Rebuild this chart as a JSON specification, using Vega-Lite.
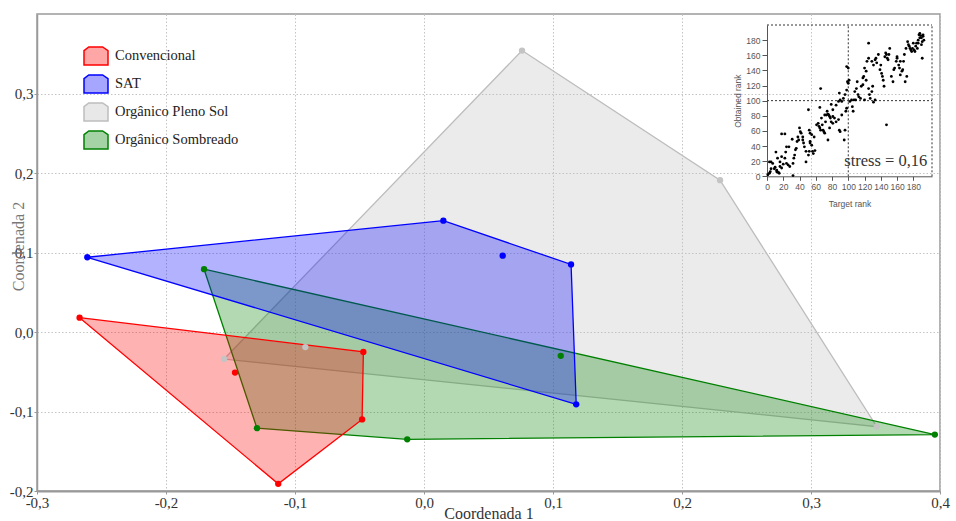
{
 "$schema": "https://vega.github.io/schema/vega-lite/v6.json",
 "width": 903,
 "height": 477,
 "autosize": "none",
 "padding": {"left": 37, "top": 14, "right": 16, "bottom": 30},
 "background": "white",
 "config": {"view": {"stroke": "#9a9a9a", "strokeWidth": 1.5}, "font": "Liberation Serif"},
 "datasets": {
  "hull": [
   {"group": "Orgânico Pleno Sol", "order": 1, "x": 0.076, "y": 0.354},
   {"group": "Orgânico Pleno Sol", "order": 2, "x": 0.2295, "y": 0.191},
   {"group": "Orgânico Pleno Sol", "order": 3, "x": 0.351, "y": -0.119},
   {"group": "Orgânico Pleno Sol", "order": 4, "x": -0.155, "y": -0.034},
   {"group": "Orgânico Pleno Sol", "order": 5, "x": 0.076, "y": 0.354},
   {"group": "Orgânico Sombreado", "order": 1, "x": -0.1705, "y": 0.079},
   {"group": "Orgânico Sombreado", "order": 2, "x": 0.396, "y": -0.129},
   {"group": "Orgânico Sombreado", "order": 3, "x": -0.013, "y": -0.135},
   {"group": "Orgânico Sombreado", "order": 4, "x": -0.1295, "y": -0.121},
   {"group": "Orgânico Sombreado", "order": 5, "x": -0.1705, "y": 0.079},
   {"group": "SAT", "order": 1, "x": -0.261, "y": 0.094},
   {"group": "SAT", "order": 2, "x": 0.015, "y": 0.14},
   {"group": "SAT", "order": 3, "x": 0.114, "y": 0.085},
   {"group": "SAT", "order": 4, "x": 0.118, "y": -0.091},
   {"group": "SAT", "order": 5, "x": -0.261, "y": 0.094},
   {"group": "Convencional", "order": 1, "x": -0.267, "y": 0.018},
   {"group": "Convencional", "order": 2, "x": -0.047, "y": -0.025},
   {"group": "Convencional", "order": 3, "x": -0.048, "y": -0.11},
   {"group": "Convencional", "order": 4, "x": -0.113, "y": -0.191},
   {"group": "Convencional", "order": 5, "x": -0.267, "y": 0.018}
  ],
  "pts": [
   {"group": "Convencional", "x": -0.267, "y": 0.018},
   {"group": "Convencional", "x": -0.1465, "y": -0.051},
   {"group": "Convencional", "x": -0.047, "y": -0.025},
   {"group": "Convencional", "x": -0.048, "y": -0.11},
   {"group": "Convencional", "x": -0.113, "y": -0.191},
   {"group": "SAT", "x": -0.261, "y": 0.094},
   {"group": "SAT", "x": 0.015, "y": 0.14},
   {"group": "SAT", "x": 0.061, "y": 0.096},
   {"group": "SAT", "x": 0.114, "y": 0.085},
   {"group": "SAT", "x": 0.118, "y": -0.091},
   {"group": "Orgânico Pleno Sol", "x": 0.076, "y": 0.354},
   {"group": "Orgânico Pleno Sol", "x": 0.2295, "y": 0.191},
   {"group": "Orgânico Pleno Sol", "x": 0.351, "y": -0.119},
   {"group": "Orgânico Pleno Sol", "x": -0.092, "y": -0.019},
   {"group": "Orgânico Pleno Sol", "x": -0.155, "y": -0.034},
   {"group": "Orgânico Sombreado", "x": -0.1705, "y": 0.079},
   {"group": "Orgânico Sombreado", "x": 0.106, "y": -0.03},
   {"group": "Orgânico Sombreado", "x": 0.396, "y": -0.129},
   {"group": "Orgânico Sombreado", "x": -0.013, "y": -0.135},
   {"group": "Orgânico Sombreado", "x": -0.1295, "y": -0.121}
  ],
  "frame": [
   {"x": 0, "x2": 203, "y": 200, "y2": 200},
   {"x": 203, "x2": 203, "y": 0, "y2": 200},
   {"x": 100, "x2": 100, "y": 0, "y2": 200},
   {"x": 0, "x2": 203, "y": 100, "y2": 100}
  ],
  "stress": [{"label": "stress = 0,16", "x": 95, "y": 14}],
  "shepard": [
   {"x":1,"y":2},{"x":3,"y":4},{"x":4,"y":6},{"x":5,"y":10},{"x":3,"y":19},{"x":5,"y":19},{"x":7,"y":17},{"x":9,"y":10},{"x":10,"y":12},{"x":12,"y":8},
   {"x":12,"y":6},{"x":14,"y":5},{"x":15,"y":4},{"x":11,"y":32},{"x":13,"y":24},{"x":16,"y":19},{"x":16,"y":13},{"x":18,"y":11},{"x":20,"y":16},{"x":22,"y":24},
   {"x":18,"y":26},{"x":24,"y":17},{"x":26,"y":15},{"x":28,"y":13},{"x":23,"y":32},{"x":24,"y":39},{"x":27,"y":39},{"x":18,"y":56},{"x":22,"y":56},{"x":31,"y":49},
   {"x":32,"y":17},{"x":32,"y":1},{"x":33,"y":24},{"x":34,"y":28},{"x":35,"y":35},{"x":36,"y":37},{"x":37,"y":46},{"x":38,"y":52},{"x":39,"y":48},{"x":40,"y":64},
   {"x":41,"y":59},{"x":42,"y":57},{"x":44,"y":52},{"x":44,"y":48},{"x":45,"y":44},{"x":46,"y":39},{"x":48,"y":33},{"x":48,"y":19},{"x":51,"y":28},{"x":52,"y":33},
   {"x":53,"y":44},{"x":53,"y":46},{"x":55,"y":41},{"x":56,"y":33},{"x":57,"y":30},{"x":59,"y":34},{"x":51,"y":88},{"x":52,"y":61},{"x":53,"y":57},{"x":55,"y":55},
   {"x":58,"y":52},{"x":61,"y":68},{"x":63,"y":70},{"x":64,"y":66},{"x":65,"y":64},{"x":66,"y":61},{"x":67,"y":77},{"x":68,"y":68},{"x":69,"y":61},{"x":70,"y":59},
   {"x":71,"y":57},{"x":72,"y":72},{"x":66,"y":116},{"x":65,"y":91},{"x":71,"y":81},{"x":73,"y":81},{"x":74,"y":86},{"x":75,"y":82},{"x":76,"y":81},{"x":77,"y":79},
   {"x":78,"y":77},{"x":79,"y":72},{"x":81,"y":79},{"x":83,"y":77},{"x":85,"y":72},{"x":88,"y":75},{"x":75,"y":48},{"x":77,"y":64},{"x":81,"y":70},{"x":89,"y":61},
   {"x":90,"y":59},{"x":92,"y":81},{"x":79,"y":95},{"x":81,"y":88},{"x":85,"y":94},{"x":88,"y":99},{"x":89,"y":110},{"x":90,"y":101},{"x":92,"y":99},{"x":94,"y":103},
   {"x":96,"y":108},{"x":98,"y":114},{"x":99,"y":125},{"x":100,"y":123},{"x":101,"y":127},{"x":98,"y":145},{"x":100,"y":143},{"x":97,"y":86},{"x":98,"y":90},{"x":95,"y":48},
   {"x":96,"y":61},{"x":102,"y":99},{"x":104,"y":101},{"x":105,"y":92},{"x":106,"y":86},{"x":107,"y":101},{"x":108,"y":112},{"x":110,"y":116},{"x":111,"y":125},{"x":112,"y":108},
   {"x":113,"y":105},{"x":115,"y":103},{"x":116,"y":119},{"x":118,"y":121},{"x":118,"y":130},{"x":119,"y":132},{"x":122,"y":127},{"x":125,"y":116},{"x":126,"y":108},{"x":127,"y":103},
   {"x":129,"y":112},{"x":130,"y":119},{"x":131,"y":98},{"x":133,"y":101},{"x":120,"y":101},{"x":109,"y":101},{"x":125,"y":176},{"x":120,"y":143},{"x":122,"y":139},{"x":123,"y":152},
   {"x":125,"y":156},{"x":129,"y":152},{"x":131,"y":147},{"x":133,"y":154},{"x":134,"y":156},{"x":135,"y":150},{"x":137,"y":161},{"x":139,"y":141},{"x":140,"y":147},{"x":141,"y":136},
   {"x":142,"y":132},{"x":143,"y":127},{"x":144,"y":119},{"x":145,"y":158},{"x":146,"y":163},{"x":147,"y":161},{"x":148,"y":156},{"x":149,"y":154},{"x":150,"y":161},{"x":151,"y":169},
   {"x":153,"y":132},{"x":155,"y":125},{"x":156,"y":141},{"x":157,"y":143},{"x":159,"y":152},{"x":160,"y":156},{"x":160,"y":158},{"x":162,"y":147},{"x":163,"y":143},{"x":164,"y":152},
   {"x":164,"y":134},{"x":166,"y":139},{"x":167,"y":141},{"x":168,"y":152},{"x":169,"y":161},{"x":170,"y":125},{"x":172,"y":132},{"x":171,"y":169},{"x":173,"y":178},{"x":174,"y":174},
   {"x":175,"y":172},{"x":176,"y":169},{"x":177,"y":167},{"x":178,"y":165},{"x":179,"y":169},{"x":180,"y":176},{"x":181,"y":167},{"x":182,"y":165},{"x":183,"y":172},{"x":184,"y":176},
   {"x":185,"y":169},{"x":186,"y":180},{"x":187,"y":187},{"x":188,"y":189},{"x":189,"y":186},{"x":190,"y":183},{"x":192,"y":185},{"x":192,"y":187},{"x":193,"y":180},{"x":191,"y":178},
   {"x":188,"y":183},{"x":186,"y":176},{"x":190,"y":174},{"x":191,"y":156},{"x":147,"y":68}
  ]
 },
 "layer": [
  {
   "layer": [
    {
     "data": {"name": "hull"},
     "mark": {"type": "line", "fillOpacity": 0.3, "strokeWidth": 1.3},
     "encoding": {
      "x": {"field": "x", "type": "quantitative",
       "scale": {"domain": [-0.3, 0.4], "nice": false, "zero": false},
       "axis": {"values": [-0.3, -0.2, -0.1, 0, 0.1, 0.2, 0.3, 0.4],
        "labelExpr": "replace(replace(format(datum.value, '.1f'), '.', ','), '\u2212', '-')",
        "title": "Coordenada 1", "titleFont": "Liberation Serif", "titleFontSize": 16, "titleFontWeight": "normal", "titleColor": "#333",
        "titleY": 22, "titleBaseline": "middle",
        "labelFont": "Liberation Serif", "labelFontSize": 15, "labelColor": "#333", "labelPadding": 1, "labelFlush": false,
        "tickSize": 3, "tickColor": "#999", "domainColor": "#999", "domainWidth": 2,
        "grid": true, "gridColor": "#c4c4c4", "gridDash": [1.5, 2]}},
      "y": {"field": "y", "type": "quantitative",
       "scale": {"domain": [-0.2, 0.4], "nice": false, "zero": false},
       "axis": {"values": [-0.2, -0.1, 0, 0.1, 0.2, 0.3],
        "labelExpr": "replace(replace(format(datum.value, '.1f'), '.', ','), '\u2212', '-')",
        "title": "Coordenada 2", "titleFont": "Liberation Serif", "titleFontSize": 16, "titleFontWeight": "normal", "titleColor": "#777",
        "titleX": -19, "titleY": 232, "titleAngle": -90, "titleBaseline": "middle", "titleAlign": "center",
        "labelFont": "Liberation Serif", "labelFontSize": 15, "labelColor": "#333", "labelPadding": 1,
        "tickSize": 3, "tickColor": "#999", "domainColor": "#9a9a9a", "domainWidth": 1.5,
        "grid": true, "gridColor": "#c4c4c4", "gridDash": [1.5, 2]}},
      "order": {"field": "order", "type": "quantitative"},
      "stroke": {"field": "group", "type": "nominal",
       "scale": {"domain": ["Convencional", "SAT", "Orgânico Pleno Sol", "Orgânico Sombreado"], "range": ["#ff0000", "#0000ff", "#bdbdbd", "#008000"]},
       "legend": {"orient": "none", "legendX": 46, "legendY": 29, "title": null, "padding": 0,
        "symbolType": "M-1,-0.45 L-0.6,-0.75 L0.55,-0.75 L1,-0.45 L1,0.75 L-1,0.75 Z", "symbolSize": 576, "symbolStrokeWidth": 1.5,
        "labelFont": "Liberation Serif", "labelFontSize": 14.5, "labelColor": "#222", "labelOffset": 6, "rowPadding": 3,
        "encode": {"symbols": {"update": {"fillOpacity": {"value": 0.35}}}}}},
      "fill": {"field": "group", "type": "nominal",
       "scale": {"domain": ["Convencional", "SAT", "Orgânico Pleno Sol", "Orgânico Sombreado"], "range": ["#ff0000", "#0000ff", "#bdbdbd", "#008000"]},
       "legend": {"orient": "none", "legendX": 46, "legendY": 29, "title": null, "padding": 0,
        "symbolType": "M-1,-0.45 L-0.6,-0.75 L0.55,-0.75 L1,-0.45 L1,0.75 L-1,0.75 Z", "symbolSize": 576, "symbolStrokeWidth": 1.5,
        "labelFont": "Liberation Serif", "labelFontSize": 14.5, "labelColor": "#222", "labelOffset": 6, "rowPadding": 3,
        "encode": {"symbols": {"update": {"fillOpacity": {"value": 0.35}}}}}}
     }
    },
    {
     "data": {"name": "pts"},
     "mark": {"type": "circle", "size": 40, "opacity": 1},
     "encoding": {
      "x": {"field": "x", "type": "quantitative"},
      "y": {"field": "y", "type": "quantitative"},
      "color": {"field": "group", "type": "nominal",
       "scale": {"domain": ["Convencional", "SAT", "Orgânico Pleno Sol", "Orgânico Sombreado"], "range": ["#ff0000", "#0000ff", "#c4c4c4", "#008000"]},
       "legend": null}
     }
    }
   ]
  },
  {
   "layer": [
    {
     "data": {"name": "frame"},
     "mark": {"type": "rule", "strokeDash": [2, 2], "color": "#333", "strokeWidth": 1},
     "encoding": {
      "x": {"field": "x", "type": "quantitative",
       "scale": {"domain": [0, 203], "range": [730, 895], "nice": false, "zero": false},
       "axis": {"orient": "bottom", "offset": -314.7, "values": [0, 20, 40, 60, 80, 100, 120, 140, 160, 180],
        "title": "Target rank", "titleFont": "Liberation Sans", "titleFontSize": 8.5, "titleFontWeight": "normal", "titleColor": "#555", "titleY": 27, "titleBaseline": "middle",
        "labelFont": "Liberation Sans", "labelFontSize": 8.5, "labelColor": "#555", "labelPadding": 2, "labelFlush": false,
        "tickSize": 4, "tickColor": "#555", "domainColor": "#555", "domainWidth": 1, "grid": false}},
      "x2": {"field": "x2"},
      "y": {"field": "y", "type": "quantitative",
       "scale": {"domain": [0, 200], "range": [162.3, 11], "nice": false, "zero": false},
       "axis": {"orient": "left", "offset": -730, "values": [0, 20, 40, 60, 80, 100, 120, 140, 160, 180],
        "title": "Obtained rank", "titleFont": "Liberation Sans", "titleFontSize": 8.5, "titleFontWeight": "normal", "titleColor": "#555", "titleX": -30, "titleBaseline": "middle", "titleAngle": -90,
        "labelFont": "Liberation Sans", "labelFontSize": 8.5, "labelColor": "#555", "labelPadding": 2, "labelFlush": false,
        "tickSize": 5, "tickColor": "#555", "domainColor": "#555", "domainWidth": 1, "grid": false}},
      "y2": {"field": "y2"}
     }
    },
    {
     "data": {"name": "shepard"},
     "mark": {"type": "circle", "size": 8, "color": "#000", "opacity": 1},
     "encoding": {
      "x": {"field": "x", "type": "quantitative"},
      "y": {"field": "y", "type": "quantitative"}
     }
    },
    {
     "data": {"name": "stress"},
     "mark": {"type": "text", "align": "left", "baseline": "alphabetic", "font": "Liberation Serif", "fontSize": 16.5, "color": "#333"},
     "encoding": {
      "x": {"field": "x", "type": "quantitative"},
      "y": {"field": "y", "type": "quantitative"},
      "text": {"field": "label"}
     }
    }
   ]
  }
 ],
 "resolve": {"scale": {"x": "independent", "y": "independent"}, "axis": {"x": "independent", "y": "independent"}}
}
